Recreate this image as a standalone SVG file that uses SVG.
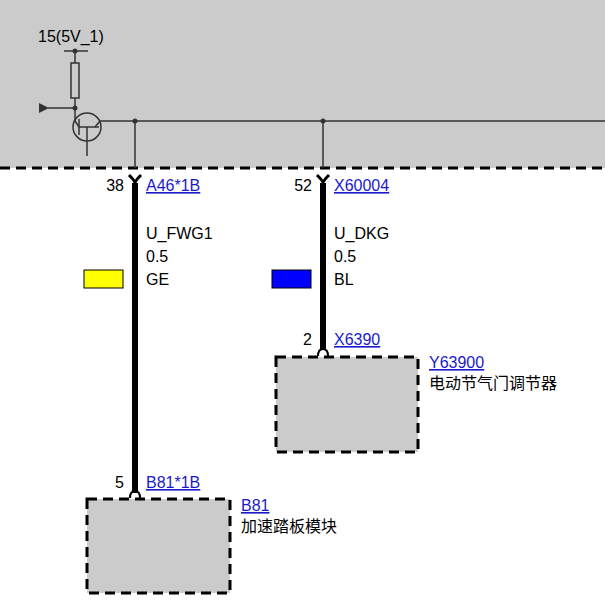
<svg xmlns="http://www.w3.org/2000/svg" width="605" height="607" viewBox="0 0 605 607">
<style>
text{font-family:"Liberation Sans",Arial,"Noto Sans CJK SC",sans-serif;font-size:16px;fill:#000}
.lnk{fill:#1a1acc;text-decoration:underline}
.thin{stroke:#333;stroke-width:1.5;fill:none}
.wire{stroke:#000;stroke-width:6;fill:none}
.box{fill:#cbcbcb;stroke:#000;stroke-width:3;stroke-dasharray:10,6}
</style>
<defs>
<marker id="ah" markerWidth="10" markerHeight="10" refX="1" refY="5" orient="auto" markerUnits="userSpaceOnUse"><path d="M10,0 L0,5 L10,10 Z" fill="#333"/></marker>
</defs>
<g id="ecu">
<rect x="0" y="0" width="605" height="168" fill="#cbcbcb"/>
<line x1="0" y1="168" x2="605" y2="168" stroke="#000" stroke-width="3" stroke-dasharray="10,6"/>
<text x="38" y="42">15(5V_1)</text>
<line class="thin" x1="64" y1="51" x2="88" y2="51"/>
<circle cx="75" cy="51" r="2.5" fill="#333"/>
<line class="thin" x1="75" y1="51" x2="75" y2="63"/>
<rect x="71" y="63" width="8" height="35" fill="none" stroke="#333" stroke-width="1.5"/>
<line class="thin" x1="75" y1="98" x2="75" y2="121"/>
<circle cx="75" cy="108" r="2.5" fill="#333"/>
<line class="thin" x1="75" y1="108" x2="48" y2="108" marker-end="url(#ah)"/>
<circle class="thin" cx="87" cy="127" r="14"/>
<line class="thin" x1="75" y1="121" x2="79" y2="127"/>
<line class="thin" x1="79" y1="119" x2="79" y2="135"/>
<line class="thin" x1="79" y1="127" x2="99" y2="127"/>
<line class="thin" x1="87" y1="127" x2="87" y2="156"/>
<line class="thin" x1="95" y1="127" x2="100" y2="121"/>
<line class="thin" x1="100" y1="121" x2="605" y2="121"/>
<circle cx="135" cy="121" r="2.5" fill="#333"/>
<circle cx="323" cy="121" r="2.5" fill="#333"/>
<line class="thin" x1="135" y1="121" x2="135" y2="168"/>
<line class="thin" x1="323" y1="121" x2="323" y2="168"/>
</g>
<g id="connectors">
<path class="wire" d="M135,183 V493"/>
<path d="M129,175 Q135,181 135,183 Q135,181 141,175" stroke="#000" stroke-width="3" fill="none"/>
<path d="M130,498 Q130,491 135,491 Q140,491 140,498" stroke="#000" stroke-width="2" fill="none"/>
<path class="wire" d="M323,183 V350"/>
<path d="M317,175 Q323,181 323,183 Q323,181 329,175" stroke="#000" stroke-width="3" fill="none"/>
<path d="M318,356 Q318,349 323,349 Q328,349 328,356" stroke="#000" stroke-width="2" fill="none"/>
<text x="124" y="191" text-anchor="end">38</text>
<text x="146" y="191" class="lnk">A46*1B</text>
<text x="146" y="239">U_FWG1</text>
<text x="146" y="262">0.5</text>
<text x="146" y="285">GE</text>
<rect x="84" y="270" width="39" height="18" fill="#ffff00" stroke="#000" stroke-width="1"/>
<text x="312" y="191" text-anchor="end">52</text>
<text x="334" y="191" class="lnk">X60004</text>
<text x="334" y="239">U_DKG</text>
<text x="334" y="262">0.5</text>
<text x="334" y="285">BL</text>
<rect x="272" y="270" width="39" height="18" fill="#0000ff" stroke="#000" stroke-width="1"/>
<text x="312" y="345" text-anchor="end">2</text>
<text x="334" y="345" class="lnk">X6390</text>
<text x="124" y="488" text-anchor="end">5</text>
<text x="146" y="488" class="lnk">B81*1B</text>
</g>
<g id="Y63900">
<rect class="box" x="276" y="357" width="142" height="95"/>
<text x="429" y="368" class="lnk">Y63900</text>
<text x="429" y="389">电动节气门调节器</text>
</g>
<g id="B81">
<rect class="box" x="87" y="499" width="143" height="94"/>
<text x="241" y="511" class="lnk">B81</text>
<text x="241" y="532">加速踏板模块</text>
</g>
</svg>
